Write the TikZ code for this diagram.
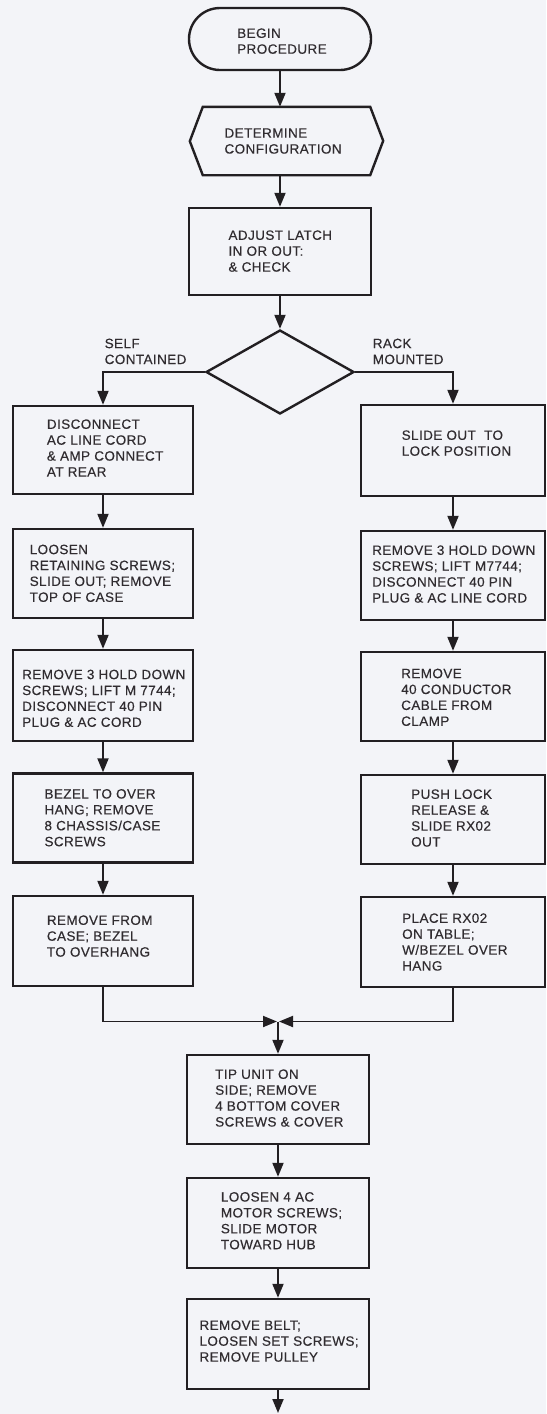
\documentclass[tikz,border=0pt]{standalone}
\usepackage{fontspec}
\setmainfont{Liberation Sans}[LetterSpace=3,FakeBold=0.3]
\usetikzlibrary{arrows.meta,shapes.geometric,shapes.misc}
\definecolor{paper}{RGB}{243,244,248}
\definecolor{ink}{RGB}{34,31,34}
\definecolor{textink}{RGB}{48,44,48}
\begin{document}
\begin{tikzpicture}[x=1pt,y=-1pt,
  box/.style={draw=ink,line width=2.4pt,fill=paper,rectangle,inner sep=0pt},
  txt/.style={anchor=north west,inner sep=0pt,align=left,text=textink,
    font=\fontsize{13.5}{15.9}\selectfont},
  conn/.style={draw=ink,line width=1.9pt,-{Triangle[length=14pt,width=11pt]}},
  lcol/.style={box,minimum width=180pt},
  rcol/.style={box,minimum width=184pt},
  bcol/.style={box,minimum width=182pt}]

% page
\path[fill=paper] (0,0) rectangle (546,1414);

% start, configuration, latch
\node[draw=ink,line width=2.4pt,fill=paper,rounded rectangle,inner sep=0pt,
  minimum width=182pt,minimum height=62pt] (begin) at (280,39) {};
\node[inner sep=0pt,minimum width=167pt,minimum height=68pt] (hex) at (286.5,141) {};
\draw[ink,line width=2.4pt,fill=paper,line join=miter]
  (hex.north west) -- (hex.north east) -- ++(13,34) -- (hex.south east)
  -- (hex.south west) -- ++(-13,-34) -- cycle;
\node[box,minimum width=182pt,minimum height=87pt] (adjust) at (280,251.5) {};
\node[draw=ink,line width=2.4pt,fill=paper,diamond,inner sep=0pt,
  minimum width=148pt,minimum height=84pt] (dia) at (280,372) {};

% self contained branch
\node[lcol,minimum height=88pt] (l1) at (103,450) {};
\node[lcol,minimum height=89pt] (l2) at (103,573.5) {};
\node[lcol,minimum height=91pt] (l3) at (103,695.5) {};
\node[lcol,minimum height=89pt] (l4) at (103,818) {};
\node[lcol,minimum height=90pt] (l5) at (103,941) {};

% rack mounted branch
\node[rcol,minimum height=91pt] (r1) at (453,450.5) {};
\node[rcol,minimum height=89pt] (r2) at (453,575.5) {};
\node[rcol,minimum height=89pt] (r3) at (453,696.5) {};
\node[rcol,minimum height=89pt] (r4) at (453,819.5) {};
\node[rcol,minimum height=90pt] (r5) at (453,942) {};

% common steps
\node[bcol,minimum height=89pt] (b1) at (278,1099.5) {};
\node[bcol,minimum height=90pt] (b2) at (278,1223) {};
\node[bcol,minimum height=90pt] (b3) at (278,1344) {};

\coordinate (m) at (278,1021.5);
\coordinate (fin) at (278,1413);

% texts
\node[txt] (begint) at (237,28.2) {BEGIN\\PROCEDURE};
\node[txt] (hext) at (224.3,128.2) {DETERMINE\\CONFIGURATION};
\node[txt] (adjustt) at (228.3,230.2) {ADJUST LATCH\\IN OR OUT:\\\& CHECK};
\node[txt] (self) at (104.5,338.5) {SELF\\CONTAINED};
\node[txt] (rack) at (372.6,338.5) {RACK\\MOUNTED};

\node[txt] (l1t) at (46.7,419.2) {DISCONNECT\\AC LINE CORD\\\& AMP CONNECT\\AT REAR};
\node[txt] (l2t) at (29.5,544.5) {LOOSEN\\RETAINING SCREWS;\\SLIDE OUT; REMOVE\\TOP OF CASE};
\node[txt] (l3t) at (22,669.5) {REMOVE 3 HOLD DOWN\\SCREWS; LIFT M 7744;\\DISCONNECT 40 PIN\\PLUG \& AC CORD};
\node[txt] (l4t) at (44.3,788.9) {BEZEL TO OVER\\HANG; REMOVE\\8 CHASSIS/CASE\\SCREWS};
\node[txt] (l5t) at (46.7,915.2) {REMOVE FROM\\CASE; BEZEL\\TO OVERHANG};

\node[txt] (r1t) at (401.5,430.2) {SLIDE OUT\ \ TO\\LOCK POSITION};
\node[txt] (r2t) at (372,545.2) {REMOVE 3 HOLD DOWN\\SCREWS; LIFT M7744;\\DISCONNECT 40 PIN\\PLUG \& AC LINE CORD};
\node[txt] (r3t) at (401,668.5) {REMOVE\\40 CONDUCTOR\\CABLE FROM\\CLAMP};
\node[txt] (r4t) at (411,789.2) {PUSH LOCK\\RELEASE \&\\SLIDE RX02\\OUT};
\node[txt] (r5t) at (402,913.2) {PLACE RX02\\ON TABLE;\\W/BEZEL OVER\\HANG};

\node[txt] (b1t) at (215,1069.2) {TIP UNIT ON\\SIDE; REMOVE\\4 BOTTOM COVER\\SCREWS \& COVER};
\node[txt] (b2t) at (220.7,1191.9) {LOOSEN 4 AC\\MOTOR SCREWS;\\SLIDE MOTOR\\TOWARD HUB};
\node[txt] (b3t) at (199.3,1320.2) {REMOVE BELT;\\LOOSEN SET SCREWS;\\REMOVE PULLEY};

% connectors
\draw[conn] (begin.south) -- (begin.south |- hex.north);
\draw[conn] (adjust.north |- hex.south) -- (adjust.north);
\draw[conn] (adjust.south) -- (dia.north);
\draw[conn] (dia.west) -| (l1.north);
\draw[conn] (dia.east) -| (r1.north);
\draw[conn] (l1.south) -- (l2.north);
\draw[conn] (l2.south) -- (l3.north);
\draw[conn] (l3.south) -- (l4.north);
\draw[conn] (l4.south) -- (l5.north);
\draw[conn] (r1.south) -- (r2.north);
\draw[conn] (r2.south) -- (r3.north);
\draw[conn] (r3.south) -- (r4.north);
\draw[conn] (r4.south) -- (r5.north);
\draw[conn,shorten >=1pt] (l5.south) |- (m);
\draw[conn,shorten >=1pt] (r5.south) |- (m);
\draw[conn] (m) -- (b1.north);
\draw[conn] (b1.south) -- (b2.north);
\draw[conn] (b2.south) -- (b3.north);
\draw[conn] (b3.south) -- (fin);
\end{tikzpicture}
\end{document}
